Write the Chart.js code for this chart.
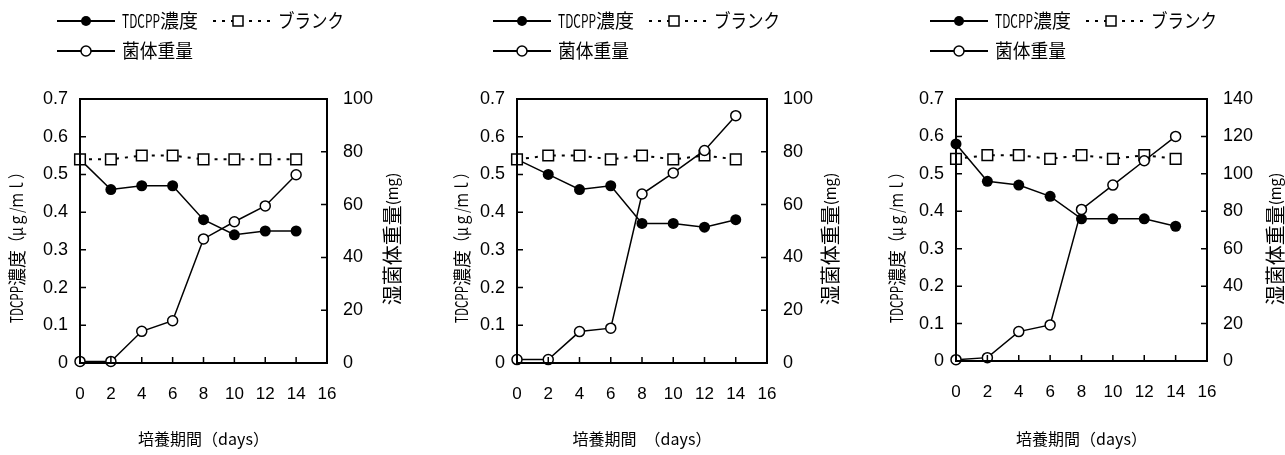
<!DOCTYPE html>
<html>
<head>
<meta charset="utf-8">
<script src="https://cdn.jsdelivr.net/npm/chart.js@4"></script>
<style>
  body { margin: 0; background: #fff; width: 1285px; height: 455px; position: relative; overflow: hidden; }
  canvas { position: absolute; top: 0; }
</style>
</head>
<body>
<canvas id="c1" width="430" height="455" style="left:0"></canvas>
<canvas id="c2" width="430" height="455" style="left:430px"></canvas>
<canvas id="c3" width="425" height="455" style="left:860px"></canvas>
<script>
// culture days (x)
const days = [0, 2, 4, 6, 8, 10, 12, 14];
const xRange = [0, 16];
const leftRange = [0, 0.7];

// panel 1
const tdcpp1 = [0.54, 0.46, 0.47, 0.47, 0.38, 0.34, 0.35, 0.35];
const blank1 = [0.54, 0.54, 0.55, 0.55, 0.54, 0.54, 0.54, 0.54];
const weight1 = [0.6, 0.6, 12, 16, 47, 53.5, 59.5, 71.3];
const rightRange1 = [0, 100];

// panel 2
const tdcpp2 = [0.54, 0.50, 0.46, 0.47, 0.37, 0.37, 0.36, 0.38];
const blank2 = [0.54, 0.55, 0.55, 0.54, 0.55, 0.54, 0.55, 0.54];
const weight2 = [1.3, 1.3, 11.9, 13.2, 64, 72, 80.5, 93.7];
const rightRange2 = [0, 100];

// panel 3
const tdcpp3 = [0.58, 0.48, 0.47, 0.44, 0.38, 0.38, 0.38, 0.36];
const blank3 = [0.54, 0.55, 0.55, 0.54, 0.55, 0.54, 0.55, 0.54];
const weight3 = [0.7, 1.8, 15.7, 19.3, 81, 94, 107, 120];
const rightRange3 = [0, 140];

const CJK = '"Noto Sans CJK JP", sans-serif';
const LAT = '"Liberation Sans", Arial, sans-serif';

function toPoints(vals) {
    return vals.map(function (v, i) { return { x: days[i], y: v }; });
}

// text made of pieces, each [text, font, maxWidth]
function runWidth(ctx, parts) {
    var w = 0;
    parts.forEach(function (p) {
        ctx.font = p[1];
        var m = ctx.measureText(p[0]).width;
        if (p[2] && m > p[2]) m = p[2];
        w += m;
    });
    return w;
}
function drawRun(ctx, parts, x, y) {
    var cx = x;
    ctx.textAlign = 'left';
    ctx.textBaseline = 'middle';
    parts.forEach(function (p) {
        ctx.font = p[1];
        var m = ctx.measureText(p[0]).width;
        if (p[2] && m > p[2]) m = p[2];
        ctx.fillText(p[0], cx, y, m);
        cx += m;
    });
}
function drawCentered(ctx, parts, x, y, rot) {
    ctx.save();
    ctx.translate(x, y);
    if (rot) ctx.rotate(rot);
    drawRun(ctx, parts, -runWidth(ctx, parts) / 2, 0);
    ctx.restore();
}

const decor = {
    id: 'decor',
    afterDraw: function (chart, args, o) {
        const ctx = chart.ctx;
        const ca = chart.chartArea;
        ctx.save();
        ctx.strokeStyle = '#000';
        ctx.fillStyle = '#000';
        // frame
        ctx.lineWidth = 2;
        ctx.strokeRect(ca.left, ca.top, ca.right - ca.left, ca.bottom - ca.top);
        // inward tick marks
        ctx.lineWidth = 1.5;
        ctx.beginPath();
        chart.scales.x.ticks.forEach(function (t) {
            var px = chart.scales.x.getPixelForValue(t.value);
            ctx.moveTo(px, ca.bottom); ctx.lineTo(px, ca.bottom - 6);
        });
        chart.scales.y.ticks.forEach(function (t) {
            var py = chart.scales.y.getPixelForValue(t.value);
            ctx.moveTo(ca.left, py); ctx.lineTo(ca.left + 6, py);
        });
        chart.scales.y1.ticks.forEach(function (t) {
            var py = chart.scales.y1.getPixelForValue(t.value);
            ctx.moveTo(ca.right, py); ctx.lineTo(ca.right - 6, py);
        });
        ctx.stroke();

        // axis titles
        drawCentered(ctx, [['TDCPP', '17px ' + CJK, 37], ['濃度', '18px ' + CJK], ['（μｇ/ｍｌ）', '17px ' + CJK, 85]],
            o.leftX, 244, -Math.PI / 2);
        drawCentered(ctx, [['湿菌体重量', '20px ' + CJK, 108], ['(mg)', '15px ' + CJK]],
            o.rightX, 239, -Math.PI / 2);
        drawCentered(ctx, o.bottomText, (ca.left + ca.right) / 2, 439, 0);

        // legend
        var x0 = o.legendX, r1 = 21, r2 = 51;
        ctx.lineWidth = 2;
        ctx.beginPath();
        ctx.moveTo(x0, r1); ctx.lineTo(x0 + 58, r1);
        ctx.moveTo(x0, r2); ctx.lineTo(x0 + 58, r2);
        ctx.stroke();
        ctx.setLineDash([3, 6]);
        ctx.beginPath();
        ctx.moveTo(x0 + 156, r1); ctx.lineTo(x0 + 214, r1);
        ctx.stroke();
        ctx.setLineDash([]);
        ctx.lineWidth = 1.5;
        ctx.beginPath();
        ctx.arc(x0 + 29, r1, 5, 0, Math.PI * 2);
        ctx.fill();
        ctx.fillStyle = '#fff';
        ctx.beginPath();
        ctx.arc(x0 + 29, r2, 5, 0, Math.PI * 2);
        ctx.fill(); ctx.stroke();
        ctx.fillRect(x0 + 176, r1 - 5, 10, 10);
        ctx.strokeRect(x0 + 176, r1 - 5, 10, 10);
        ctx.fillStyle = '#000';
        drawRun(ctx, [['TDCPP', '18px ' + CJK, 38], ['濃度', '19px ' + CJK]], x0 + 65, r1);
        drawRun(ctx, [['ブランク', '19px ' + CJK, 66]], x0 + 221, r1);
        drawRun(ctx, [['菌体重量', '19px ' + CJK, 71]], x0 + 65, r2);
        ctx.restore();
    }
};

function makeChart(id, tdcpp, blank, weight, rightRange, p) {
    new Chart(document.getElementById(id), {
        type: 'line',
        data: {
            datasets: [{
                label: '菌体重量',
                data: toPoints(weight),
                yAxisID: 'y1',
                order: 0,
                borderColor: '#000',
                borderWidth: 1.5,
                pointRadius: 5,
                pointBorderWidth: 1.5,
                pointBackgroundColor: '#fff',
                pointBorderColor: '#000',
                clip: false
            }, {
                label: 'ブランク',
                data: toPoints(blank),
                yAxisID: 'y',
                order: 1,
                borderColor: '#000',
                borderWidth: 2,
                borderDash: [3, 6],
                pointStyle: 'rect',
                pointRadius: 7.5,
                pointBorderWidth: 1.5,
                pointBackgroundColor: '#fff',
                pointBorderColor: '#000',
                clip: false
            }, {
                label: 'TDCPP濃度',
                data: toPoints(tdcpp),
                yAxisID: 'y',
                order: 2,
                borderColor: '#000',
                borderWidth: 1.5,
                pointRadius: 5.5,
                pointBorderWidth: 0,
                pointBackgroundColor: '#000',
                clip: false
            }]
        },
        options: {
            responsive: false,
            animation: false,
            layout: { padding: { top: 99, left: 0, right: 0, bottom: 0 } },
            plugins: {
                legend: { display: false },
                tooltip: { enabled: false },
                decor: p
            },
            scales: {
                x: {
                    type: 'linear', min: xRange[0], max: xRange[1],
                    ticks: { stepSize: 2, padding: 21, color: '#000', font: { family: LAT, size: 17 } },
                    grid: { display: false, drawTicks: false },
                    border: { display: false },
                    afterFit: function (s) { s.height = p.xH; }
                },
                y: {
                    position: 'left', min: leftRange[0], max: leftRange[1],
                    ticks: { stepSize: 0.1, padding: 12, color: '#000', font: { family: LAT, size: 18 } },
                    grid: { display: false, drawTicks: false },
                    border: { display: false },
                    afterFit: function (s) { s.width = p.yW; }
                },
                y1: {
                    position: 'right', min: rightRange[0], max: rightRange[1],
                    ticks: { stepSize: 20, padding: 16, color: '#000', font: { family: LAT, size: 18 } },
                    grid: { display: false, drawTicks: false },
                    border: { display: false },
                    afterFit: function (s) { s.width = p.y1W; }
                }
            }
        },
        plugins: [decor]
    });
}

const bottomA = [['培養期間', '16px ' + CJK], ['（days）', '16px ' + CJK, 68]];
const bottomB = [['培養期間', '16px ' + CJK], ['　（days）', '16px ' + CJK, 76]];

makeChart('c1', tdcpp1, blank1, weight1, rightRange1,
    { xH: 92, yW: 80, y1W: 103, leftX: 17, rightX: 392, legendX: 57, bottomText: bottomA });
makeChart('c2', tdcpp2, blank2, weight2, rightRange2,
    { xH: 92, yW: 87, y1W: 93, leftX: 32, rightX: 400, legendX: 63, bottomText: bottomB });
makeChart('c3', tdcpp3, blank3, weight3, rightRange3,
    { xH: 94, yW: 96, y1W: 78, leftX: 37, rightX: 415, legendX: 70, bottomText: bottomA });
</script>
</body>
</html>
